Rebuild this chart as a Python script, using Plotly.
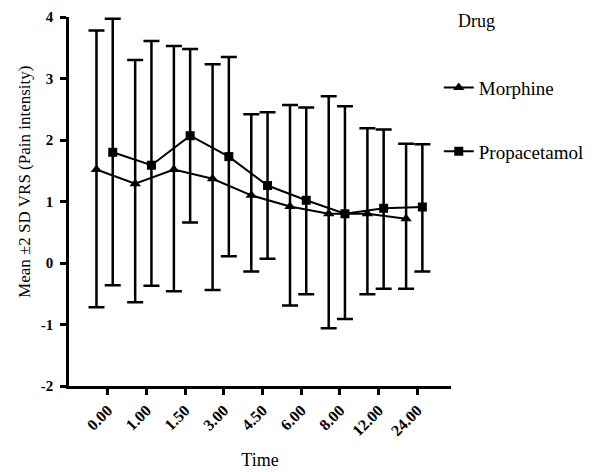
import plotly.graph_objects as go

time_labels = ["0.00", "1.00", "1.50", "3.00", "4.50", "6.00", "8.00", "12.00", "24.00"]

morphine_mean = [1.52, 1.29, 1.52, 1.37, 1.10, 0.92, 0.80, 0.80, 0.72]
morphine_upper = [3.78, 3.30, 3.53, 3.23, 2.42, 2.57, 2.71, 2.19, 1.94]
morphine_lower = [-0.72, -0.64, -0.46, -0.44, -0.14, -0.69, -1.06, -0.51, -0.42]

prop_mean = [1.80, 1.59, 2.07, 1.73, 1.26, 1.02, 0.80, 0.89, 0.91]
prop_upper = [3.97, 3.61, 3.48, 3.35, 2.45, 2.53, 2.55, 2.17, 1.93]
prop_lower = [-0.36, -0.37, 0.66, 0.11, 0.07, -0.51, -0.91, -0.42, -0.14]

y_ticks = [-2, -1, 0, 1, 2, 3, 4]
y_tick_labels = ["-2", "-1", "0", "1", "2", "3", "4"]

FONT = "Liberation Serif, Times New Roman, serif"
idx = list(range(len(time_labels)))
morph_x = [i - 0.29 for i in idx]
prop_x = [i + 0.13 for i in idx]

fig = go.Figure()
fig.add_trace(go.Scatter(
    x=morph_x, y=morphine_mean, name="Morphine", mode="lines+markers",
    line=dict(color="black", width=2),
    marker=dict(symbol="triangle-up", size=10, color="black"),
    error_y=dict(type="data", symmetric=False,
                 array=[u - m for u, m in zip(morphine_upper, morphine_mean)],
                 arrayminus=[m - l for m, l in zip(morphine_mean, morphine_lower)],
                 color="black", thickness=2.5, width=8),
    legendgroup="m", cliponaxis=False,
))
fig.add_trace(go.Scatter(
    x=prop_x, y=prop_mean, name="Propacetamol", mode="lines+markers",
    line=dict(color="black", width=2),
    marker=dict(symbol="square", size=9, color="black"),
    error_y=dict(type="data", symmetric=False,
                 array=[u - m for u, m in zip(prop_upper, prop_mean)],
                 arrayminus=[m - l for m, l in zip(prop_mean, prop_lower)],
                 color="black", thickness=2.5, width=8),
    legendgroup="p", cliponaxis=False,
))

fig.update_layout(
    template="none",
    width=598, height=472,
    margin=dict(l=61, r=155, t=9, b=94, autoexpand=False),
    paper_bgcolor="white", plot_bgcolor="white",
    font=dict(family=FONT, color="black", size=16),
    showlegend=True,
    legend=dict(x=0.968, y=0.86, xanchor="left", yanchor="top",
                font=dict(family=FONT, size=19, color="black"),
                tracegroupgap=36, traceorder="grouped",
                bgcolor="rgba(0,0,0,0)"),
    annotations=[
        dict(text="Drug", xref="paper", yref="paper", x=1.012, y=0.99,
             xanchor="left", yanchor="middle", showarrow=False,
             font=dict(family=FONT, size=18, color="black")),
        dict(text="Mean ±2 SD VRS (Pain intensity)", xref="paper", yref="paper",
             x=0, y=0.553, xshift=-44, xanchor="center", yanchor="middle",
             textangle=-90, showarrow=False,
             font=dict(family=FONT, size=17, color="black")),
    ],
    xaxis=dict(
        range=[-1, 8.87], tickmode="array", tickvals=idx, ticktext=time_labels,
        tickangle=-45, showline=True, linecolor="black", linewidth=2.5,
        ticks="outside", ticklen=6, tickwidth=2.5, tickcolor="black",
        showgrid=False, zeroline=False, automargin=False,
        tickfont=dict(family=FONT, size=16, color="black", weight="bold"),
        title=dict(text="Time", font=dict(family=FONT, size=18, color="black"), standoff=16),
    ),
    yaxis=dict(
        range=[-2, 4], tickmode="array", tickvals=y_ticks, ticktext=y_tick_labels,
        showline=True, linecolor="black", linewidth=2.5,
        ticks="outside", ticklen=6, tickwidth=2.5, tickcolor="black",
        showgrid=False, zeroline=False, automargin=False, ticklabelstandoff=4,
        ticklabeloverflow="allow",
        tickfont=dict(family=FONT, size=15, color="black", weight="bold"),
    ),
)

fig.write_html("out.html")
